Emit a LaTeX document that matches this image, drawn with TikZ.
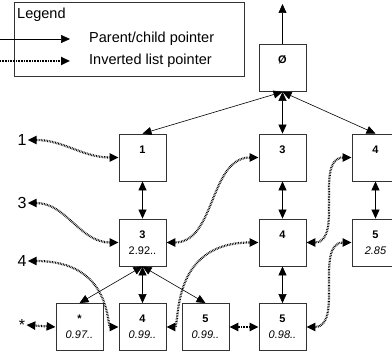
\documentclass[tikz,border=0pt]{standalone}
\usepackage{fontspec}
\setmainfont{Liberation Sans}
\usetikzlibrary{arrows.meta}
\newcommand{\tval}[2]{\textbf{#1}\\\textit{#2}}
\begin{document}
\begin{tikzpicture}[x=1pt, y=-1pt, line join=miter,
        tnode/.style={draw=black!80, line width=0.8pt, minimum width=47pt, minimum height=47pt, inner sep=0pt, align=center, font=\fontsize{11}{16}\selectfont},
        lbl/.style={font=\fontsize{16}{16}\selectfont, inner sep=1pt},
        pc/.style={{Triangle[length=9pt,width=8pt]}-{Triangle[length=9pt,width=8pt]}, line width=0.6pt},
        inv/.style={{Triangle[length=9pt,width=8pt]}-{Triangle[length=9pt,width=8pt]}, line width=2.2pt, dash pattern=on 0.7pt off 0.9pt}]
    \useasboundingbox (0,0) rectangle (392,358);

    % legend
    \node[draw=black!80, line width=0.8pt, anchor=north west, minimum width=230pt, minimum height=74pt] (legend) at (14,2) {};
    \node[anchor=west, font=\fontsize{14.5}{15}\selectfont, inner sep=1pt] (lgtitle) at (16,15) {Legend};
    \coordinate (pa) at (0,39);
    \coordinate (pb) at (70,39);
    \coordinate (qa) at (0,61);
    \coordinate (qb) at (70,61);
    \draw[-{Triangle[length=9pt,width=8pt]}, line width=0.6pt] (pa) -- (pb);
    \draw[-{Triangle[length=9pt,width=8pt]}, line width=2.2pt, dash pattern=on 0.7pt off 0.9pt] (qa) -- (qb);
    \node[anchor=west, font=\fontsize{14.5}{15}\selectfont, inner sep=1pt] (lgpc) at (88,39) {Parent/child pointer};
    \node[anchor=west, font=\fontsize{14.5}{15}\selectfont, inner sep=1pt] (lginv) at (88,61) {Inverted list pointer};

    % tree
    \node[tnode] (root) at (282.5,68) {\tval{Ø}{}};
    \node[tnode] (c1) at (142.5,157.5) {\tval{1}{}};
    \node[tnode] (c3) at (282.5,157.5) {\tval{3}{}};
    \node[tnode] (c4) at (375.5,157.5) {\tval{4}{}};
    \node[tnode] (n3) at (142.5,242.5) {\textbf{3}\\2.92..};
    \node[tnode] (n4) at (282.5,242.5) {\tval{4}{}};
    \node[tnode] (n5) at (375.5,242.5) {\tval{5}{2.85}};
    \node[tnode] (s0) at (79.5,327) {\tval{*}{0.97..}};
    \node[tnode] (s4) at (142.5,327) {\tval{4}{0.99..}};
    \node[tnode] (s5) at (205.5,327) {\tval{5}{0.99..}};
    \node[tnode] (t5) at (282.5,327) {\tval{5}{0.98..}};
    \coordinate (up) at (282.5,4);

    % words
    \node[lbl] (w1) at (22,140) {1};
    \node[lbl] (w3) at (22,203) {3};
    \node[lbl] (w4) at (22,261) {4};
    \node[lbl] (ws) at (22,325) {*};

    % parent/child pointers
    \draw[-{Triangle[length=9pt,width=8pt]}, line width=0.6pt] (root.north) -- (up);
    \draw[pc] (root.south) -- (c1.north);
    \draw[pc] (root.south) -- (c3.north);
    \draw[pc] (root.south) -- (c4.north);
    \draw[pc] (c1) -- (n3);
    \draw[pc] (c3) -- (n4);
    \draw[pc] (n4) -- (t5);
    \draw[pc] (c4) -- (n5);
    \draw[pc] (n3.south) -- (s0.north);
    \draw[pc] (n3.south) -- (s4.north);
    \draw[pc] (n3.south) -- (s5.north);

    % inverted list pointers
    \draw[inv] (w1.east) to[out=0, in=180] (c1.west);
    \draw[inv] (w3.east) to[out=0, in=180] (n3.west);
    \draw[inv] (w4.east) .. controls +(85,0) and +(-12,0) .. (s4.west);
    \draw[inv] (ws.east) -- (s0.west);
    \draw[inv] (n3.east) to[out=0, in=180] (c3.west);
    \draw[inv] (n4.west) .. controls +(-90,0) and +(14,0) .. (s4.east);
    \draw[inv] (n4.east) to[out=0, in=180] (c4.west);
    \draw[inv] (t5.east) to[out=0, in=180] (n5.west);
    \draw[inv] (s5.east) -- (t5.west);
\end{tikzpicture}
\end{document}
